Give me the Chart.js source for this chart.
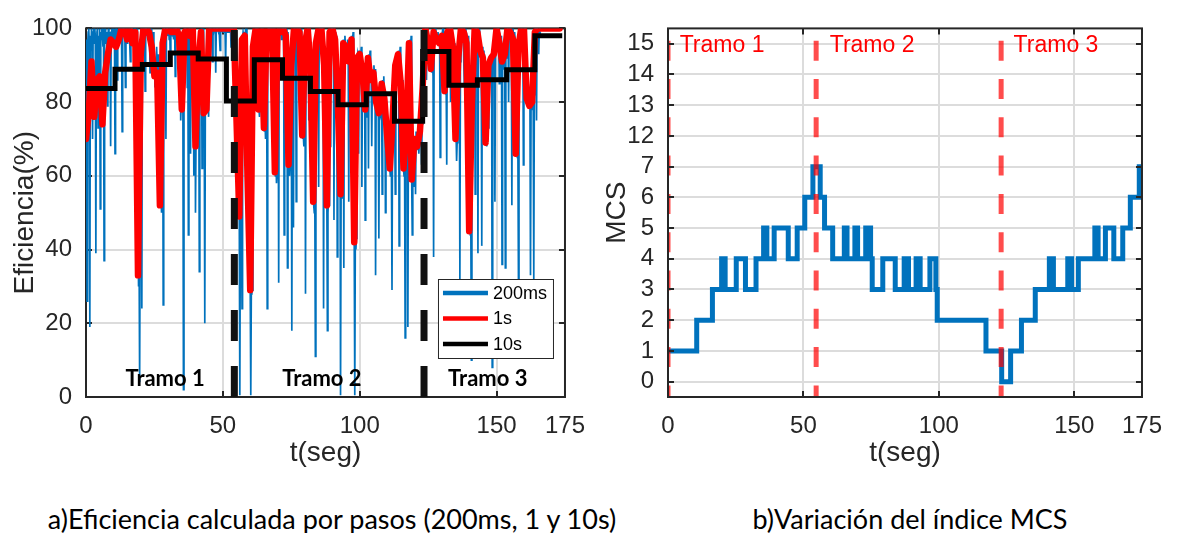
<!DOCTYPE html>
<html>
<head>
<meta charset="utf-8">
<script src="https://cdn.jsdelivr.net/npm/chart.js@4.4.1/dist/chart.umd.min.js"></script>
<style>
  html, body { margin: 0; padding: 0; background: #fff; width: 1177px; height: 533px; overflow: hidden; }
  #effBox { position: absolute; left: 0; top: 0; width: 600px; height: 480px; }
  #mcsBox { position: absolute; left: 600px; top: 0; width: 577px; height: 480px; }
  .caption { position: absolute; top: 503px; line-height: 32px; font-family: Lato, 'Open Sans', sans-serif;
             font-size: 27px; color: #000; white-space: nowrap; transform: translateX(-50%); }
</style>
</head>
<body>
<div id="effBox"><canvas id="eff" width="600" height="480"></canvas></div>
<div id="mcsBox"><canvas id="mcs" width="577" height="480"></canvas></div>
<div class="caption" style="left:332px">a)Eficiencia calculada por pasos (200ms, 1 y 10s)</div>
<div class="caption" style="left:910px">b)Variación del índice MCS</div>
<script>
// ---- axis ticks ----
const xTicks = [0, 50, 100, 150, 175];
const effTicks = [0, 20, 40, 60, 80, 100];
const mcsTickPos = [0, 1, 2, 3, 4, 5, 6, 7, 8, 9, 10, 11];
const mcsTickLabels = ['0', '1', '2', '3', '4', '5', '6', '7', '12', '13', '14', '15'];

// ---- efficiency, 200 ms samples (one row = one second, 5 samples) ----
const eff200ms = [
  [70,97,26,95,99],[100,96,19,98,94],[100,97,70,99,100],[96,100,98,39,97],[99,100,73,98,95],
  [100,51,99,97,100],[98,95,100,37,99],[100,97,96,99,79],[98,100,95,99,97],[68,99,100,96,100],
  // 10-19 s
  [97,99,100,66,98],[100,99,86,97,100],[99,100,96,98,100],[97,72,99,100,98],[100,98,84,99,100],
  [96,100,99,97,100],[100,91,98,100,99],[98,100,97,99,100],[100,88,99,96,100],[45,30,38,4,50],
  // 20-29 s
  [95,100,24,98,100],[99,100,97,83,100],[100,98,99,100,97],[99,100,88,100,99],[100,94,97,99,96],
  [92,84,90,88,95],[90,86,93,88,85],[60,52,55,50,58],[96,25,98,100,99],[100,70,99,100,98],
  // 30-39 s
  [99,100,97,100,91],[100,98,100,99,100],[97,100,99,87,100],[100,99,98,100,97],[100,96,99,75,80],
  [82,78,80,2,79],[99,100,98,97,100],[84,99,44,100,98],[100,66,99,97,100],[98,100,60,99,100],
  // 40-49 s
  [50,70,68,75,72],[92,88,34,90,95],[99,100,62,98,100],[80,76,20,78,77],[84,78,77,80,76],
  [100,99,100,98,100],[100,91,100,99,100],[99,100,88,100,100],[100,100,99,100,100],[94,100,100,99,100],
  // 50-59 s
  [100,99,100,100,100],[90,100,100,99,100],[100,100,99,100,100],[95,100,100,100,99],[100,99,100,98,100],
  [80,72,70,76,78],[50,0.5,48,52,49],[24,97,99,98,97],[98,99,97,100,96],[65,58,60,62,55],
  // 60-69 s
  [30,0.5,28,32,29],[95,97,94,96,89],[100,99,100,98,100],[82,78,76,80,79],[100,99,98,100,97],
  [74,72,75,70,76],[99,24,100,98,100],[100,98,99,100,97],[86,100,99,98,100],[62,60,64,58,61],
  // 70-79 s
  [100,99,31,100,98],[99,100,97,100,98],[100,99,44,98,100],[99,97,100,35,99],[64,62,60,65,63],
  [90,18,88,92,46],[100,99,98,100,53],[100,98,100,99,100],[99,100,75,98,100],[72,70,71,68,74],
  // 80-89 s
  [96,28,97,99,95],[100,99,75,100,98],[90,92,88,91,89],[55,52,50,54,11],[96,98,95,97,94],
  [57,100,99,100,98],[100,99,100,98,24],[92,89,90,88,91],[53,18,50,54,52],[99,68,100,98,100],
  // 90-99 s
  [100,99,98,48,100],[97,99,96,98,38],[80,82,78,81,79],[0.5,55,56,54,57],[97,35,96,98,95],
  [94,96,95,97,93],[53,92,90,93,91],[98,96,97,99,95],[42,0.5,44,40,43],[92,93,91,66,94],
  // 100-109 s
  [94,92,93,95,57],[88,86,90,89,87],[48,78,77,79,76],[92,62,93,91,94],[86,88,68,85,87],
  [88,90,87,89,33],[80,82,79,81,78],[43,76,78,77,79],[85,55,86,84,87],[81,80,50,82,79],
  // 110-119 s
  [71,70,72,64,73],[62,60,63,61,29],[75,77,74,76,73],[55,90,91,89,92],[93,94,41,92,95],
  [85,87,84,86,83],[62,60,64,16,61],[72,74,70,19,73],[96,95,97,94,98],[59,44,58,60,57],
  // 120-129 s
  [70,68,55,72,69],[68,67,70,66,69],[72,71,73,63,74],[84,86,83,85,97],[100,99,86,100,98],
  [96,97,95,98,96],[89,90,88,91,87],[38,99,100,98,100],[97,98,96,99,97],[96,97,65,98,95],
  // 130-139 s
  [98,99,97,100,96],[83,85,82,84,63],[99,100,98,99,100],[100,80,99,100,98],[95,97,78,96,94],
  [70,72,64,69,71],[92,90,93,32,91],[100,99,98,100,99],[99,85,100,98,100],[70,96,97,95,98],
  // 140-149 s
  [45,46,44,47,10],[80,82,79,81,78],[100,55,99,100,98],[99,39,100,98,100],[94,96,93,41,95],
  [92,94,91,93,76],[69,71,68,70,72],[73,90,92,89,91],[92,93,8,91,94],[93,95,53,92,94],
  // 150-159 s
  [100,99,98,100,99],[85,96,97,95,98],[36,91,90,92,89],[93,35,94,92,95],[100,99,80,100,98],
  [99,100,98,52,100],[97,98,96,99,97],[70,66,68,65,67],[32,95,96,94,97],[100,99,98,100,63],
  // 160-166 s
  [100,99,100,98,80],[81,83,80,82,79],[79,80,33,78,81],[80,81,79,32,82],[99,100,98,75,100],
  [100,99,93,100,98],[99]
];
const sampleStep200ms = 0.2;

// ---- efficiency, 1 s averages (t = 0, 1, 2, ... s) ----
const eff1s = [
  70,77,91,76,86,87,74,88,93,97,
  96,95,97,100,100,97,100,96,99,33,
  93,100,100,99,95,87,88,52,96,100,
  100,99,99,100,98,78,99,100,98,100,
  68,90,99,77,78,100,100,100,100,100,
  100,100,100,100,100,75,49,97,98,60,
  29,95,100,78,100,73,100,99,100,61,
  100,99,100,98,63,90,100,100,99,71,
  96,100,90,53,96,100,100,90,52,99,
  100,97,80,55,96,95,91,97,42,92,
  93,88,78,92,86,88,80,77,85,81,
  71,62,75,90,93,85,62,72,96,59,
  70,68,72,84,100,96,89,99,97,96,
  98,83,99,100,95,70,92,100,99,96,
  45,80,100,99,94,92,69,90,92,93,
  100,96,91,93,100,99,97,66,95,100,
  100,81,79,80,99,100,100,100,100,100,
  100,100,100,100
];

// ---- efficiency, 10 s averages (step start times and levels) ----
const eff10sTime  = [0, 10.6, 20.6, 30.8, 41, 51.3, 61.5, 71.8, 82, 92.1, 102.4, 112.7, 123, 132.6, 143, 153.7, 164, 174];
const eff10sValue = [83.7, 88.9, 90.2, 93.3, 91.7, 80.3, 91.5, 86.5, 82.9, 79.3, 82.3, 74.8, 93.7, 84.6, 86.1, 88.8, 98, 98];

// ---- MCS index (step start times and levels) ----
const mcsTime  = [0, 10.6, 16.4, 19.8, 21.1, 25.2, 28.6, 32.5, 35.3, 36.5, 39.2, 44.4, 47.7, 50.5, 53.5,
                  56.2, 57.8, 60.8, 65.1, 66.1, 69, 70, 73, 74.8, 75.4, 79.3, 83.9, 87.2, 88.8, 91.6,
                  93.1, 96.7, 98.9, 99.4, 117.4, 123.2, 126.5, 130.5, 135.6, 140.8, 142.3, 147.6, 149,
                  151.5, 157.6, 158.8, 161.5, 164.6, 167.9, 170.7, 174, 175];
const mcsValue = [1, 2, 3, 4, 3, 4, 3, 4, 5, 4, 5, 4, 5, 6, 7,
                  6, 5, 4, 5, 4, 5, 4, 5, 4, 3, 4, 3, 4, 3, 4,
                  3, 4, 3, 2, 1, 0, 1, 2, 3, 4, 3, 4, 3,
                  4, 5, 4, 5, 4, 5, 6, 7, 7];

// ---- section boundaries (s) ----
const effSectionBounds = [54.2, 123.5];
const mcsSectionBounds = [0, 54.7, 123];
const sectionNames = ['Tramo 1', 'Tramo 2', 'Tramo 3'];
const seriesNames = ['200ms', '1s', '10s'];

// ---------------------------------------------------------------
const sans = "'Liberation Sans', Arial, sans-serif";
const ink = '#262626';
const blue = '#0072bd';

const fixedTicks = values => scale => { scale.ticks = values.map(v => ({ value: v })); };

// Box around the plot area with inward tick marks on all four sides
function drawFrame(chart) {
  const { ctx, chartArea: a, scales: { x, y } } = chart;
  const len = 6;
  ctx.save();
  ctx.strokeStyle = ink;
  ctx.lineWidth = 2;
  ctx.strokeRect(a.left, a.top, a.right - a.left, a.bottom - a.top);
  ctx.beginPath();
  x.ticks.forEach(t => {
    const px = Math.round(x.getPixelForValue(t.value));
    ctx.moveTo(px, a.bottom); ctx.lineTo(px, a.bottom - len);
    ctx.moveTo(px, a.top); ctx.lineTo(px, a.top + len);
  });
  y.ticks.forEach(t => {
    const py = Math.round(y.getPixelForValue(t.value));
    ctx.moveTo(a.left, py); ctx.lineTo(a.left + len, py);
    ctx.moveTo(a.right, py); ctx.lineTo(a.right - len, py);
  });
  ctx.stroke();
  ctx.restore();
}
const frameBelow = { id: 'frameBelow', beforeDatasetsDraw: drawFrame };
const frameAbove = { id: 'frameAbove', afterDatasetsDraw: drawFrame };

function xAxis() {
  return {
    type: 'linear', min: 0, max: 175,
    afterBuildTicks: fixedTicks(xTicks),
    afterFit: s => { s.height = 83; },
    ticks: { font: { family: sans, size: 24 }, color: ink, padding: 15, maxRotation: 0, autoSkip: false },
    grid: { color: '#dcdcdc', lineWidth: 2, drawTicks: false },
    border: { display: false },
    title: { display: true, text: 't(seg)', color: ink, font: { family: sans, size: 28 }, padding: { top: 0, bottom: 10 } }
  };
}

function yAxis(opts) {
  return Object.assign({
    type: 'linear',
    afterFit: s => { s.width = opts.width; },
    ticks: { font: { family: sans, size: 24 }, color: ink, padding: 14, autoSkip: false },
    grid: { color: '#dcdcdc', lineWidth: 2, drawTicks: false },
    border: { display: false },
    title: { display: true, text: opts.title, color: ink, font: { family: sans, size: 28 }, padding: { top: opts.titlePad, bottom: 0 } }
  }, opts.extra);
}

// ---------------- a) efficiency ----------------
const effData = {
  datasets: [
    ...effSectionBounds.map(t => ({
      label: 'limite', data: [{ x: t, y: 0 }, { x: t, y: 100 }],
      borderColor: '#111', borderWidth: 7, borderDash: [31, 25], order: 0
    })),
    {
      label: seriesNames[2],
      data: eff10sTime.map((t, i) => ({ x: t, y: eff10sValue[i] })),
      borderColor: '#000', borderWidth: 5, stepped: true, order: 1
    },
    {
      label: seriesNames[1],
      data: eff1s.map((v, i) => ({ x: i, y: v })),
      borderColor: '#ff0000', borderWidth: 6.5, borderJoinStyle: 'round', borderCapStyle: 'round', order: 2
    },
    {
      label: seriesNames[0],
      data: eff200ms.flat().map((v, i) => ({ x: i * sampleStep200ms, y: v })),
      borderColor: blue, borderWidth: 1.7, order: 3
    }
  ]
};

const effLegend = {
  id: 'effLegend',
  afterDatasetsDraw(chart) {
    const { ctx, chartArea: a } = chart;
    const left = a.right - 127, top = 279, w = 115, h = 79;
    ctx.save();
    ctx.fillStyle = '#fff';
    ctx.fillRect(left, top, w, h);
    ctx.strokeStyle = ink; ctx.lineWidth = 1;
    ctx.strokeRect(left + 0.5, top + 0.5, w, h);
    seriesNames.forEach((name, i) => {
      const ds = chart.data.datasets.find(d => d.label === name);
      const yy = top + 14 + i * 25.5;
      ctx.strokeStyle = ds.borderColor; ctx.lineWidth = 4.5;
      ctx.beginPath(); ctx.moveTo(left + 5, yy); ctx.lineTo(left + 50, yy); ctx.stroke();
      ctx.fillStyle = '#000'; ctx.font = `18px ${sans}`;
      ctx.textBaseline = 'middle'; ctx.textAlign = 'left';
      ctx.fillText(name, left + 55, yy + 1);
    });
    ctx.restore();
  }
};

const effSectionLabels = {
  id: 'effSectionLabels',
  afterDatasetsDraw(chart) {
    const { ctx, scales: { x, y } } = chart;
    const centers = [28.9, 86.2, 146.8];
    ctx.save();
    ctx.fillStyle = '#000';
    ctx.font = "bold 22px Lato, 'Open Sans', sans-serif";
    ctx.textAlign = 'center'; ctx.textBaseline = 'middle';
    sectionNames.forEach((s, i) => ctx.fillText(s, x.getPixelForValue(centers[i]), y.getPixelForValue(4.8)));
    ctx.restore();
  }
};

new Chart(document.getElementById('eff'), {
  type: 'line',
  data: effData,
  options: {
    responsive: false, animation: false, devicePixelRatio: 1,
    layout: { padding: { top: 20, right: 35, left: 0, bottom: 0 } },
    elements: { point: { radius: 0 }, line: { tension: 0 } },
    plugins: { legend: { display: false }, tooltip: { enabled: false } },
    scales: {
      x: xAxis(),
      y: yAxis({ width: 86, title: 'Eficiencia(%)', titlePad: 8,
                 extra: { min: 0, max: 100, afterBuildTicks: fixedTicks(effTicks) } })
    }
  },
  plugins: [frameBelow, effLegend, effSectionLabels]
});

// ---------------- b) MCS index ----------------
const mcsData = {
  datasets: [
    ...mcsSectionBounds.map(t => ({
      label: 'limite', data: [{ x: t, y: 11.1 }, { x: t, y: -0.5 }],
      borderColor: 'rgba(255,0,0,0.7)', borderWidth: 5, borderDash: [20, 18.3], order: 0
    })),
    {
      label: 'MCS',
      data: mcsTime.map((t, i) => ({ x: t, y: mcsValue[i] })),
      borderColor: blue, borderWidth: 5, stepped: true, order: 1
    }
  ]
};

const mcsSectionLabels = {
  id: 'mcsSectionLabels',
  afterDatasetsDraw(chart) {
    const { ctx, scales: { x, y } } = chart;
    const starts = [4.3, 59.7, 127.6];
    ctx.save();
    ctx.fillStyle = '#ff0000';
    ctx.font = `23px ${sans}`;
    ctx.textAlign = 'left'; ctx.textBaseline = 'middle';
    sectionNames.forEach((s, i) => ctx.fillText(s, x.getPixelForValue(starts[i]), y.getPixelForValue(10.93)));
    ctx.restore();
  }
};

new Chart(document.getElementById('mcs'), {
  type: 'line',
  data: mcsData,
  options: {
    responsive: false, animation: false, devicePixelRatio: 1,
    layout: { padding: { top: 22, right: 30, left: 0, bottom: 0 } },
    elements: { point: { radius: 0 }, line: { tension: 0 } },
    plugins: { legend: { display: false }, tooltip: { enabled: false } },
    scales: {
      x: xAxis(),
      y: yAxis({ width: 68, title: 'MCS', titlePad: 0,
                 extra: { min: -0.5, max: 11.5, afterBuildTicks: fixedTicks(mcsTickPos),
                          ticks: { font: { family: sans, size: 24 }, color: ink, padding: 14, autoSkip: false,
                                   callback: v => mcsTickLabels[v] } } })
    }
  },
  plugins: [frameAbove, mcsSectionLabels]
});
</script>
</body>
</html>
